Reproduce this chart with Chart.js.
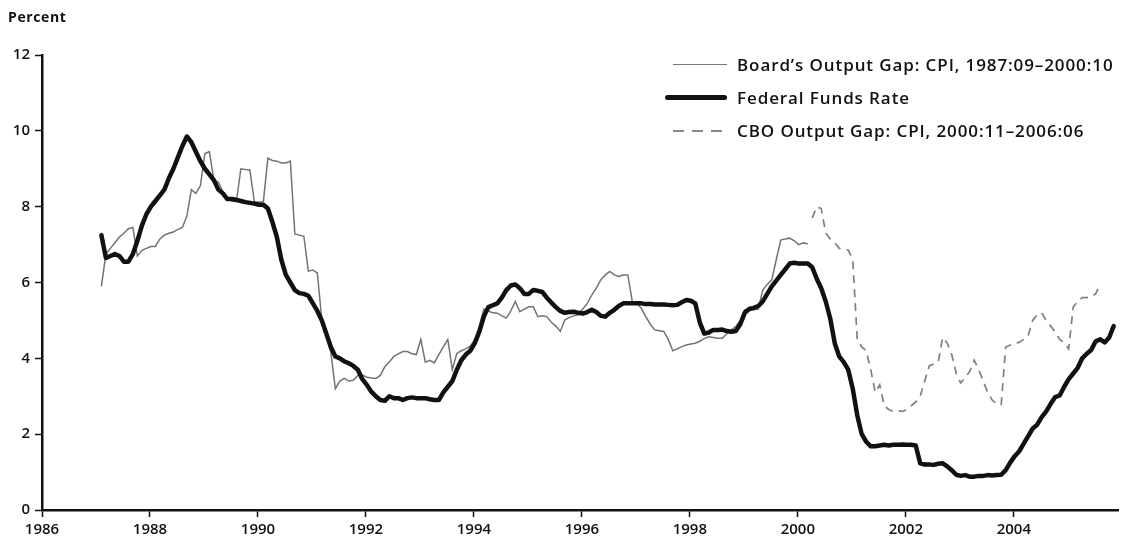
<!DOCTYPE html>
<html>
<head>
<meta charset="utf-8">
<script src="https://cdn.jsdelivr.net/npm/chart.js@4.4.1/dist/chart.umd.min.js"></script>
<style>
  html, body { margin: 0; padding: 0; background: #fff; }
  #wrap { position: relative; width: 1128px; height: 545px; }
  #percent { position: absolute; left: 8px; top: 7px; font: 700 14px "Open Sans", sans-serif; letter-spacing: 0.6px; color: #111; }
  #legend { position: absolute; left: 665px; top: 48px; font: 600 17px "Open Sans", sans-serif; letter-spacing: 0.9px; color: #111; }
  .row { display: flex; align-items: center; height: 33px; white-space: nowrap; }
  .swatch { margin-right: 10px; }
  .thin { border-top: 1.5px solid #777; margin-left: 8px; width: 54px; }
  .thick { border-top: 5px solid #111; width: 62px; border-radius: 3px; }
  .dash { margin-left: 8px; width: 54px; height: 2px;
          background: repeating-linear-gradient(to right, #888 0 11px, transparent 11px 19px); }
</style>
</head>
<body>
<div id="wrap">
  <canvas id="c" width="1128" height="545"></canvas>
  <div id="percent">Percent</div>
  <div id="legend">
    <div class="row"><div class="swatch thin"></div><span>Board’s Output Gap: CPI, 1987:09–2000:10</span></div>
    <div class="row"><div class="swatch thick"></div><span>Federal Funds Rate</span></div>
    <div class="row"><div class="swatch dash"></div><span>CBO Output Gap: CPI, 2000:11–2006:06</span></div>
  </div>
</div>
<script>
// Monthly observations, first month 1987:09
const seriesNames = ["Board’s Output Gap: CPI, 1987:09–2000:10", "Federal Funds Rate", "CBO Output Gap: CPI, 2000:11–2006:06"];
const firstMonth = "1987:09";
const firstMonthPos = 1987.1;      // where 1987:09 sits on the chart's year axis
const xTickLabels = [1986, 1988, 1990, 1992, 1994, 1996, 1998, 2000, 2002, 2004];
const yTickLabels = [0, 2, 4, 6, 8, 10, 12];

const fedFunds = [
  7.25, 6.65, 6.70, 6.75,
  6.70, 6.55, 6.55, 6.75, 7.10, 7.50, 7.80, 8.00, 8.15, 8.30, 8.45, 8.75,
  9.00, 9.30, 9.60, 9.85, 9.70, 9.45, 9.20, 9.00, 8.85, 8.70, 8.45, 8.35,
  8.20, 8.20, 8.18, 8.15, 8.12, 8.10, 8.08, 8.05, 8.05, 7.95, 7.60, 7.20,
  6.60, 6.20, 6.00, 5.80, 5.72, 5.70, 5.65, 5.45, 5.25, 5.00, 4.65, 4.30,
  4.05, 4.00, 3.92, 3.87, 3.80, 3.70, 3.45, 3.30, 3.12, 3.00, 2.90, 2.88,
  3.00, 2.95, 2.95, 2.90, 2.95, 2.97, 2.95, 2.95, 2.95, 2.92, 2.90, 2.90,
  3.10, 3.25, 3.40, 3.70, 3.95, 4.10, 4.20, 4.40, 4.70, 5.10, 5.35, 5.40,
  5.45, 5.60, 5.80, 5.92, 5.95, 5.85, 5.70, 5.70, 5.80, 5.78, 5.75, 5.60,
  5.47, 5.35, 5.25, 5.20, 5.22, 5.23, 5.20, 5.18, 5.22, 5.28, 5.22, 5.12,
  5.10, 5.20, 5.28, 5.38, 5.45, 5.45, 5.45, 5.45, 5.45, 5.43, 5.43, 5.42,
  5.42, 5.42, 5.41, 5.40, 5.41, 5.48, 5.54, 5.52, 5.45, 4.95, 4.65, 4.68,
  4.75, 4.75, 4.76, 4.72, 4.70, 4.72, 4.90, 5.20, 5.30, 5.33, 5.38, 5.50,
  5.70, 5.90, 6.05, 6.20, 6.35, 6.50, 6.52, 6.50, 6.50, 6.50, 6.40, 6.10,
  5.85, 5.50, 5.05, 4.40, 4.05, 3.90, 3.70, 3.20, 2.50, 2.00, 1.80, 1.68,
  1.68, 1.70, 1.72, 1.70, 1.72, 1.72, 1.73, 1.72, 1.72, 1.70, 1.23, 1.20,
  1.20, 1.19, 1.22, 1.23, 1.15, 1.05, 0.93, 0.90, 0.92, 0.88, 0.88, 0.90,
  0.90, 0.92, 0.91, 0.92, 0.93, 1.05, 1.25, 1.42, 1.55, 1.75, 1.95, 2.15,
  2.25, 2.45, 2.60, 2.80, 2.98, 3.02, 3.25, 3.45, 3.60, 3.75, 4.00, 4.12,
  4.22, 4.45, 4.50, 4.42, 4.55, 4.85
];

const boardGap = [
  5.90, 6.75, 6.90, 7.05,
  7.20, 7.30, 7.42, 7.45, 6.70, 6.85, 6.90, 6.95, 6.95, 7.15, 7.25, 7.30,
  7.33, 7.40, 7.45, 7.75, 8.45, 8.35, 8.55, 9.40, 9.45, 8.70, 8.65, 8.40,
  8.20, 8.15, 8.13, 9.00, 8.98, 8.97, 8.13, 8.12, 8.13, 9.28, 9.22, 9.20,
  9.15, 9.15, 9.20, 7.28, 7.25, 7.22, 6.30, 6.33, 6.25, 5.00, 4.60, 4.15,
  3.20, 3.40, 3.47, 3.40, 3.42, 3.55, 3.56, 3.50, 3.48, 3.47, 3.55, 3.78,
  3.90, 4.05, 4.12, 4.18, 4.18, 4.12, 4.10, 4.50, 3.90, 3.95, 3.88, 4.10,
  4.30, 4.50, 3.70, 4.13, 4.20, 4.25, 4.32, 4.50, 4.84, 5.30, 5.25, 5.20,
  5.19, 5.12, 5.06, 5.25, 5.50, 5.23, 5.30, 5.36, 5.36, 5.10, 5.12, 5.10,
  4.95, 4.85, 4.71, 5.01, 5.08, 5.12, 5.15, 5.30, 5.45, 5.67, 5.85, 6.07,
  6.20, 6.29, 6.20, 6.16, 6.20, 6.20, 5.50, 5.45, 5.32, 5.10, 4.90, 4.75,
  4.73, 4.71, 4.50, 4.20, 4.25, 4.31, 4.35, 4.38, 4.40, 4.45, 4.52, 4.57,
  4.55, 4.53, 4.53, 4.65, 4.75, 4.84, 5.00, 5.28, 5.28, 5.28, 5.30, 5.80,
  5.95, 6.07, 6.60, 7.12, 7.15, 7.17, 7.10, 7.00, 7.05, 7.02
];

const cboStartIndex = 158;   // 2000:11
const cboGap = [
  7.70, 8.00,
  7.95, 7.30, 7.15, 7.05, 6.90, 6.88, 6.86, 6.60, 4.50, 4.30, 4.20, 3.70,
  3.10, 3.30, 2.75, 2.65, 2.60, 2.62, 2.60, 2.65, 2.75, 2.85, 3.00, 3.40,
  3.80, 3.85, 3.90, 4.55, 4.40, 4.10, 3.60, 3.35, 3.50, 3.65, 3.95, 3.70,
  3.40, 3.10, 2.90, 2.80, 2.78, 4.30, 4.35, 4.40, 4.42, 4.50, 4.60, 5.00,
  5.15, 5.20, 5.00, 4.85, 4.70, 4.50, 4.40, 4.25, 5.35, 5.50, 5.60, 5.60,
  5.63, 5.70, 5.95
];

function toPoints(values, startIndex) {
  return values.map((v, k) => ({ x: firstMonthPos + (startIndex + k) / 12, y: v }));
}

const tickFont = { family: "'Open Sans', sans-serif", size: 15, weight: '600' };

new Chart(document.getElementById('c'), {
  type: 'line',
  data: {
    datasets: [
      { label: seriesNames[0], data: toPoints(boardGap, 0), borderColor: '#737373', borderWidth: 1.5, pointRadius: 0, tension: 0, order: 2 },
      { label: seriesNames[1], data: toPoints(fedFunds, 0), borderColor: '#111', borderWidth: 4.5, pointRadius: 0, tension: 0, order: 1, borderJoinStyle: 'round', borderCapStyle: 'round' },
      { label: seriesNames[2], data: toPoints(cboGap, cboStartIndex), borderColor: '#808080', borderWidth: 1.7, borderDash: [8, 6], pointRadius: 0, tension: 0, order: 3 }
    ]
  },
  options: {
    responsive: false,
    animation: false,
    layout: { padding: { left: 0, right: 10, top: 55, bottom: 0 } },
    plugins: { legend: { display: false }, tooltip: { enabled: false }, title: { display: false } },
    scales: {
      x: {
        type: 'linear',
        min: 1986,
        max: 2005.93,
        afterBuildTicks: s => { s.ticks = xTickLabels.map(v => ({ value: v })); },
        afterFit: s => { s.height = 35; },
        ticks: { color: '#111', font: tickFont, padding: 4, maxRotation: 0, autoSkip: false, callback: v => String(v) },
        grid: { display: true, drawOnChartArea: false, drawTicks: true, tickLength: 7, tickWidth: 1.5, tickColor: '#111' },
        border: { display: true, color: '#111', width: 2.5 }
      },
      y: {
        min: 0,
        max: 12,
        afterBuildTicks: s => { s.ticks = yTickLabels.map(v => ({ value: v })); },
        afterFit: s => { s.width = 42; },
        ticks: { color: '#111', font: tickFont, padding: 5, callback: v => String(v) },
        grid: { display: true, drawOnChartArea: false, drawTicks: true, tickLength: 7, tickWidth: 1.5, tickColor: '#111' },
        border: { display: true, color: '#111', width: 2.5 }
      }
    }
  }
});
</script>
</body>
</html>
